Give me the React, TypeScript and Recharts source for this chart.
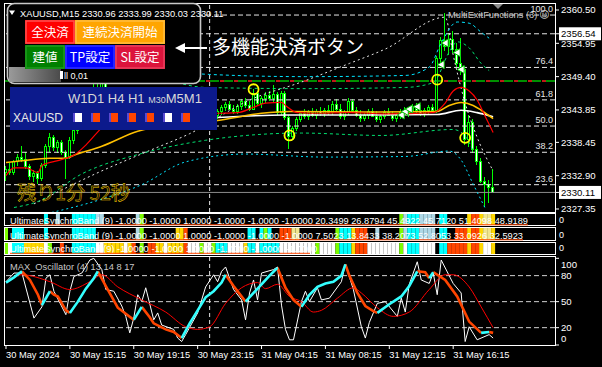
import React from "react";
import {
  ComposedChart,
  BarChart,
  LineChart,
  Bar,
  Line,
  Cell,
  XAxis,
  YAxis,
  ReferenceLine,
} from "recharts";

const FONT = "'Liberation Sans', Arial, sans-serif";
const JP = "'Noto Sans CJK JP', 'Noto Sans CJK SC', sans-serif";

// 123 bars of XAUUSD M15 plus the empty shift area on the right
const SLOTS = 138;

// [open, high, low, close]
const candles: number[][] = [
  [2333.5, 2334.5, 2332.0, 2334.0], [2334.0, 2335.0, 2333.0, 2333.4], [2333.4, 2335.5, 2333.0, 2335.2],
  [2335.2, 2336.5, 2334.5, 2336.0], [2336.0, 2337.8, 2335.2, 2335.6], [2335.6, 2336.8, 2334.0, 2334.4],
  [2334.4, 2334.8, 2332.2, 2332.8], [2332.8, 2333.8, 2331.8, 2333.2], [2333.2, 2333.6, 2331.5, 2332.4],
  [2332.4, 2335.0, 2332.0, 2334.6], [2334.6, 2338.2, 2334.2, 2337.8], [2337.8, 2340.0, 2336.8, 2339.2],
  [2339.2, 2339.6, 2337.0, 2337.6], [2337.6, 2338.8, 2336.6, 2338.4], [2338.4, 2338.9, 2336.4, 2336.8],
  [2336.8, 2337.2, 2332.4, 2336.0], [2336.0, 2339.4, 2335.6, 2338.8], [2338.8, 2341.0, 2338.2, 2340.5],
  [2340.5, 2342.0, 2339.8, 2341.6], [2341.6, 2343.2, 2341.0, 2342.8], [2342.8, 2344.5, 2342.0, 2344.0],
  [2344.0, 2346.0, 2343.4, 2345.5], [2345.5, 2348.2, 2345.0, 2347.6], [2347.6, 2349.2, 2346.5, 2347.0],
  [2347.0, 2348.8, 2346.0, 2348.2], [2348.2, 2349.0, 2346.2, 2346.6], [2346.6, 2347.4, 2345.0, 2345.6],
  [2345.6, 2346.8, 2344.6, 2346.2], [2346.2, 2347.0, 2345.0, 2345.4], [2345.4, 2346.0, 2343.8, 2344.4],
  [2344.4, 2345.0, 2343.2, 2343.8], [2343.8, 2344.6, 2342.6, 2343.0], [2343.0, 2344.4, 2342.6, 2344.0],
  [2344.0, 2345.4, 2343.4, 2345.0], [2345.0, 2345.6, 2343.8, 2344.2], [2344.2, 2345.0, 2343.0, 2343.6],
  [2343.6, 2344.2, 2342.4, 2342.8], [2342.8, 2343.6, 2342.0, 2343.2], [2343.2, 2344.0, 2342.6, 2343.6],
  [2343.6, 2344.6, 2343.0, 2344.2], [2344.2, 2345.2, 2343.6, 2344.8], [2344.8, 2345.4, 2343.8, 2344.0],
  [2344.0, 2344.8, 2343.2, 2343.6], [2343.6, 2344.6, 2343.0, 2344.2], [2344.2, 2345.0, 2343.4, 2343.8],
  [2343.8, 2344.6, 2342.8, 2343.2], [2343.2, 2344.0, 2342.6, 2343.6], [2343.6, 2344.4, 2343.0, 2344.0],
  [2344.0, 2344.8, 2343.2, 2343.4], [2343.4, 2344.2, 2342.8, 2343.8], [2343.8, 2344.6, 2343.2, 2344.2],
  [2344.2, 2345.0, 2343.6, 2344.0], [2344.0, 2344.4, 2342.6, 2343.0], [2343.0, 2344.0, 2342.4, 2343.6],
  [2343.6, 2344.6, 2343.0, 2344.2], [2344.2, 2345.2, 2343.6, 2344.8], [2344.8, 2345.4, 2343.8, 2344.0],
  [2344.0, 2344.6, 2343.2, 2343.6], [2343.6, 2344.8, 2343.2, 2344.4], [2344.4, 2345.6, 2343.8, 2345.2],
  [2345.2, 2345.8, 2344.2, 2344.6], [2344.6, 2345.4, 2343.6, 2344.0], [2344.0, 2347.4, 2343.8, 2346.6],
  [2346.6, 2347.0, 2344.6, 2345.0], [2345.0, 2346.2, 2344.2, 2345.8], [2345.8, 2346.8, 2345.0, 2346.2],
  [2346.2, 2347.0, 2345.4, 2345.8], [2345.8, 2348.0, 2345.2, 2346.4], [2346.4, 2346.8, 2343.0, 2343.4],
  [2343.4, 2347.0, 2343.0, 2346.6], [2346.6, 2347.0, 2342.2, 2342.6], [2342.6, 2343.0, 2337.4, 2339.4],
  [2339.4, 2341.2, 2338.8, 2340.8], [2340.8, 2342.6, 2340.4, 2342.2], [2342.2, 2343.6, 2341.8, 2343.2],
  [2343.2, 2344.0, 2342.4, 2342.8], [2342.8, 2343.8, 2342.2, 2343.4], [2343.4, 2344.2, 2342.6, 2343.0],
  [2343.0, 2344.0, 2342.4, 2343.6], [2343.6, 2344.4, 2342.8, 2343.2], [2343.2, 2344.2, 2342.6, 2343.8],
  [2343.8, 2344.6, 2343.0, 2343.4], [2343.4, 2345.4, 2343.0, 2344.8], [2344.8, 2345.6, 2343.6, 2344.0],
  [2344.0, 2344.8, 2342.4, 2342.8], [2342.8, 2343.8, 2342.2, 2343.4], [2343.4, 2345.8, 2343.0, 2345.2],
  [2345.2, 2345.6, 2343.4, 2343.8], [2343.8, 2344.4, 2342.6, 2343.0], [2343.0, 2343.8, 2341.8, 2342.4],
  [2342.4, 2343.4, 2342.0, 2343.0], [2343.0, 2344.0, 2342.4, 2343.6], [2343.6, 2344.2, 2342.6, 2342.8],
  [2342.8, 2343.6, 2341.8, 2342.2], [2342.2, 2343.2, 2341.6, 2342.8], [2342.8, 2343.8, 2342.4, 2343.4],
  [2343.4, 2344.2, 2342.8, 2343.0], [2343.0, 2343.6, 2342.0, 2342.4], [2342.4, 2343.4, 2341.8, 2343.0],
  [2343.0, 2344.0, 2342.4, 2343.6], [2343.6, 2344.4, 2342.8, 2343.2], [2343.2, 2344.2, 2342.6, 2343.8],
  [2343.8, 2344.8, 2343.2, 2344.4], [2344.4, 2345.0, 2343.4, 2343.8], [2343.8, 2344.6, 2342.8, 2343.2],
  [2343.2, 2344.2, 2342.6, 2343.8], [2343.8, 2344.6, 2343.2, 2344.2], [2344.2, 2344.8, 2343.4, 2343.8],
  [2343.8, 2352.8, 2343.4, 2352.4], [2352.4, 2356.0, 2351.6, 2355.4], [2355.4, 2360.0, 2353.6, 2354.4],
  [2354.4, 2356.6, 2353.0, 2355.6], [2355.6, 2357.0, 2353.4, 2354.0], [2354.0, 2355.0, 2351.0, 2351.6],
  [2351.6, 2355.8, 2349.6, 2350.6], [2350.6, 2351.2, 2338.0, 2339.0], [2339.0, 2343.0, 2337.6, 2341.8],
  [2341.8, 2342.4, 2336.6, 2337.2], [2337.2, 2337.8, 2334.6, 2335.2], [2335.2, 2335.8, 2331.6, 2332.0],
  [2332.0, 2332.6, 2327.6, 2331.4], [2331.4, 2332.2, 2328.4, 2330.96], [2330.96, 2333.99, 2330.03, 2330.11],
];

// moving averages, [bar, price]
const maRed = [[0, 2332.9], [2, 2334.2], [5, 2334.2], [8, 2333.4], [9, 2334.6], [13, 2335.4], [15, 2335.8], [17, 2336.3], [20, 2338.0], [23, 2340.2], [28, 2343.5], [34, 2344.8], [42, 2344.2], [53, 2343.3], [58, 2343.4], [62, 2344.3], [65, 2345.0], [69, 2345.1], [70, 2344.6], [73, 2343.4], [78, 2343.3], [86, 2343.4], [95, 2343.2], [107, 2343.4], [110, 2345.0], [112, 2347.0], [114, 2347.6], [116, 2347.0], [118, 2345.5], [120, 2342.8], [122, 2340.1]];
const maGold = [[0, 2335.1], [4, 2335.4], [11, 2335.8], [15, 2335.8], [17, 2336.3], [24, 2337.8], [33, 2340.3], [45, 2341.5], [53, 2342.1], [64, 2343.3], [71, 2343.6], [90, 2343.5], [108, 2343.6], [111, 2344.6], [114, 2345.1], [117, 2344.6], [119, 2343.8], [122, 2342.4]];
const maWhite = [[53, 2342.6], [70, 2343.0], [85, 2343.0], [108, 2343.1], [114, 2343.8], [118, 2343.4], [122, 2342.7]];

// dotted envelope lines
const bandWhite = [[7, 2328.2], [24, 2333.7], [36, 2337.1], [46, 2339.9], [61, 2345.5], [74, 2348.5], [86, 2351.6], [95, 2354.0], [110, 2359.3], [112, 2353.0], [115, 2345.0], [118, 2339.3], [122, 2333.7]];
const bandCyanUp = [[30, 2352.6], [40, 2350.8], [50, 2349.8], [75, 2349.4], [100, 2349.6], [106, 2351.0], [109, 2355.0], [113, 2358.5], [116, 2358.3], [119, 2356.8], [121, 2355.8]];
const bandGreenUp = [[40, 2349.0], [50, 2347.6], [75, 2347.4], [100, 2347.6], [107, 2348.4], [111, 2353.5], [113, 2355.2], [116, 2354.2], [119, 2351.6], [121, 2350.4]];
const bandGreenLo = [[2, 2327.6], [8, 2328.6], [19, 2333.2], [34, 2336.6], [50, 2338.8], [74, 2340.0], [94, 2339.6], [112, 2340.6], [115, 2339.5], [117, 2337.0]];
const bandCyanLo = [[9, 2326.4], [25, 2329.2], [34, 2331.4], [45, 2335.2], [60, 2336.5], [80, 2336.0], [100, 2336.1], [111, 2337.0], [114, 2335.5], [117, 2331.5], [120, 2327.5]];

const rings = [[62, 2347.3], [71, 2339.6], [108, 2348.9], [115, 2339.2]];
const exitArrows = [[99, 2343.0], [100, 2343.6], [101, 2344.0], [103, 2344.4], [109, 2351.4], [110, 2355.0], [113, 2353.4], [114, 2350.6]];

const FIB_LABELS = ["100.0", "76.4", "61.8", "50.0", "38.2", "23.6"];
const FIB_PRICES = [2359.66, 2350.93, 2345.53, 2341.17, 2336.8, 2331.4];
const ASK_LINE = 2356.54;
const BID_LINE = 2330.11;
const SIGNAL_LINE = 2348.68;
const DAY_BREAK = 51;

const PRICE_TICKS = [2360.5, 2354.95, 2349.4, 2343.85, 2338.45, 2332.9, 2327.35];
const BOXED = [ASK_LINE, BID_LINE];

const TIME_TICKS = [0, 16, 32, 48, 64, 80, 96, 112];
const TIME_LABELS = ["30 May 2024", "30 May 15:15", "30 May 19:15", "30 May 23:15", "31 May 04:15", "31 May 08:15", "31 May 12:15", "31 May 16:15"];

// MAX_Oscillator
const oscWhite = [[0, 73], [2, 83], [4, 83], [7, 31], [9, 44], [10, 77], [11, 81], [12, 62], [15, 35], [16, 62], [17, 79], [19, 83], [21, 98], [22, 100], [24, 87], [25, 64], [27, 62], [29, 45], [30, 33], [31, 14], [32, 31], [33, 58], [34, 50], [35, 66], [37, 29], [38, 37], [39, 23], [42, 18], [43, 8], [44, 4], [45, 12], [48, 37], [49, 52], [50, 67], [52, 81], [53, 73], [54, 85], [55, 90], [57, 64], [59, 52], [60, 29], [61, 60], [62, 75], [63, 52], [64, 83], [67, 87], [68, 90], [69, 46], [70, 18], [71, 6], [72, 6], [74, 50], [75, 62], [76, 50], [78, 66], [79, 52], [81, 54], [84, 73], [85, 93], [87, 64], [89, 21], [90, 8], [91, 26], [93, 48], [95, 50], [98, 33], [99, 54], [100, 38], [101, 70], [103, 96], [104, 75], [106, 71], [107, 83], [108, 58], [109, 98], [112, 71], [114, 60], [115, 4], [116, 21], [118, 6], [121, 12], [122, 8]];
const oscRed = [[0, 73], [4, 81], [11, 73], [16, 64], [21, 73], [24, 81], [28, 67], [34, 52], [40, 38], [45, 21], [48, 18], [51, 21], [55, 48], [59, 66], [63, 72], [65, 65], [68, 70], [71, 56], [74, 50], [77, 38], [79, 40], [83, 54], [87, 66], [89, 60], [93, 43], [97, 33], [101, 38], [106, 64], [110, 81], [112, 81], [116, 67], [119, 44], [122, 20]];
const oscRising = [
  [[0, 72], [2, 78], [4, 85]],
  [[9, 46], [11, 62]],
  [[16, 37], [18, 50], [20, 65], [22, 77], [23, 85]],
  [[32, 29], [34, 44]],
  [[44, 8], [46, 25], [48, 40], [50, 55], [52, 62], [54, 72], [55, 81]],
  [[60, 50], [62, 60], [64, 70], [66, 80], [68, 89]],
  [[74, 44], [76, 58], [78, 67], [80, 71], [82, 73], [84, 80], [85, 93]],
  [[93, 37], [96, 47], [99, 56], [101, 68], [103, 85]],
  [[106, 77], [107, 84]],
  [[119, 14], [121, 15]],
];
const oscFalling = [
  [[4, 85], [6, 75], [8, 58], [9, 46]],
  [[11, 62], [12, 58], [13, 56], [15, 40], [16, 37]],
  [[23, 85], [25, 68], [28, 43], [30, 36], [32, 29]],
  [[34, 44], [36, 32], [37, 25], [40, 18], [42, 15], [44, 8]],
  [[55, 81], [57, 68], [60, 50]],
  [[68, 89], [70, 66], [72, 52], [74, 44]],
  [[85, 93], [86, 80], [88, 60], [90, 45], [92, 39], [93, 37]],
  [[103, 85], [105, 84], [106, 77]],
  [[107, 84], [110, 75], [113, 56], [116, 27], [119, 14]],
  [[121, 15], [122, 14]],
];
const OSC_TICKS = [0, 20, 50, 80, 100];

// UltimateSynchroBand state per bar: [from, to, state]
const band1: [number, number, string][] = [[10, 10, "c"], [13, 13, "b"], [17, 22, "c"], [23, 24, "b"], [33, 33, "b"], [34, 34, "g"], [99, 99, "g"], [100, 100, "b"], [101, 103, "c"], [104, 107, "b"], [109, 110, "c"], [116, 116, "y"], [117, 118, "o"], [119, 119, "y"], [120, 121, "k"], [122, 122, "y"]];
const band2: [number, number, string][] = [[0, 0, "g"], [2, 4, "c"], [10, 10, "c"], [17, 22, "c"], [33, 33, "b"], [34, 34, "g"], [43, 44, "y"], [45, 45, "o"], [61, 62, "c"], [64, 64, "c"], [65, 65, "g"], [66, 66, "c"], [69, 71, "o"], [72, 73, "k"], [83, 83, "g"], [84, 86, "c"], [87, 87, "y"], [88, 90, "o"], [93, 93, "b"], [99, 99, "g"], [100, 100, "b"], [101, 103, "c"], [104, 107, "b"], [109, 110, "c"], [113, 115, "o"], [116, 116, "y"], [117, 118, "o"], [119, 119, "y"], [120, 121, "k"], [122, 122, "y"]];
const band3: [number, number, string][] = [[0, 0, "g"], [1, 1, "w"], [2, 4, "c"], [5, 9, "y"], [10, 10, "w"], [11, 11, "g"], [14, 14, "o"], [17, 22, "c"], [23, 24, "w"], [25, 29, "y"], [30, 30, "w"], [31, 31, "y"], [32, 32, "o"], [34, 34, "g"], [36, 37, "o"], [38, 39, "y"], [40, 40, "w"], [41, 44, "y"], [45, 45, "o"], [46, 48, "w"], [49, 49, "g"], [50, 51, "w"], [52, 52, "g"], [53, 55, "c"], [56, 59, "w"], [60, 60, "y"], [61, 62, "c"], [63, 63, "w"], [64, 68, "c"], [69, 77, "w"], [78, 78, "g"], [79, 82, "w"], [83, 83, "g"], [84, 86, "c"], [87, 87, "y"], [88, 90, "o"], [91, 98, "w"], [99, 99, "g"], [100, 100, "w"], [101, 103, "c"], [104, 107, "w"], [109, 110, "c"], [111, 115, "o"], [116, 116, "y"], [117, 118, "o"], [119, 119, "y"], [120, 121, "w"], [122, 122, "y"]];
const STATE_COLORS: Record<string, string> = { c: "#00ffff", b: "#add8e6", g: "#7cfc00", y: "#ffd700", o: "#ff4500", k: "#f0e68c", w: "#ffffff" };

const USB_TEXT_1 = "UltimateSynchroBand (9) -1.0000 -1.0000 1.0000 -1.0000 -1.0000 -1.0000 20.3499 26.8794 45.4922 45.7120 51.4098 48.9189";
const USB_TEXT_2 = "UltimateSynchroBand (9) -1.0000 -1.0000 1.0000 -1.0000 -1.0000 -1.0000 7.5023 13.8433 38.2073 52.8053 33.0926 32.5923";
const USB_TEXT_3 = "UltimateSynchroBand (9) -1.0000 -1.0000 1.0000 -1.0000 -1.0000 -1.0000";

const TF_LABELS = ["W1", "D1", " H4", " H1", " ", "M30", "M5", "M1"];
const TF_STATE = ["w", "o", "o", "o", "o", "w", "o"];

// ---- build tables ----
const rows: any[] = Array.from({ length: SLOTS }, (_, i) => {
  const c = candles[i];
  return c ? { i, o: c[0], h: c[1], l: c[2], c: c[3] } : { i };
});
const put = (key: string, pts: number[][]) => pts.forEach(([i, v]) => (rows[i][key] = v));
put("maR", maRed);
put("maG", maGold);
put("maW", maWhite);
put("bW", bandWhite);
put("bCu", bandCyanUp);
put("bGu", bandGreenUp);
put("bGl", bandGreenLo);
put("bCl", bandCyanLo);
put("ring", rings);
put("arrow", exitArrows);

const paint = (segs: [number, number, string][]) => {
  const out = Array.from({ length: SLOTS }, (_, i) => ({ i, s: ".", v: null as number | null }));
  segs.forEach(([a, b, s]) => {
    for (let k = a; k <= b; k++) {
      out[k].s = s;
      out[k].v = 1;
    }
  });
  return out;
};

const toPts = (pts: number[][]) => pts.map(([i, v]) => ({ i, v }));

// ---- renderers ----
const Candle = (props: any) => {
  const { x, y, width, height, payload } = props;
  if (payload == null || payload.h == null) return <g />;
  const top = Math.min(y, y + height);
  const h = Math.abs(height);
  const k = h / (payload.h - payload.l || 1);
  const cx = Math.round(x + width / 2) - 0.5;
  const yo = top + (payload.h - payload.o) * k;
  const yc = top + (payload.h - payload.c) * k;
  const bull = payload.c >= payload.o;
  return (
    <g shapeRendering="crispEdges">
      <line x1={cx} x2={cx} y1={top} y2={top + h} stroke="#00ff00" />
      <rect x={cx - 1} y={Math.min(yo, yc)} width={2} height={Math.max(Math.abs(yc - yo), 1)} fill={bull ? "#000" : "#fff"} stroke="#00ff00" />
    </g>
  );
};

const RingDot = (p: any) =>
  p.value == null || p.cy == null ? <g key={p.index} /> : (
    <circle key={p.index} cx={p.cx} cy={p.cy} r={5} fill="none" stroke="#ffff00" strokeWidth={1.8} />
  );

const ArrowDot = (p: any) =>
  p.value == null || p.cy == null ? <g key={p.index} /> : (
    <polygon key={p.index} points={`${p.cx - 4},${p.cy} ${p.cx + 3},${p.cy - 4} ${p.cx + 3},${p.cy + 4}`} fill="#fff" stroke="#00c000" strokeWidth={1} />
  );

const PriceTick = (p: any) => {
  const { x, y, payload } = p;
  const v = payload.value;
  const boxed = BOXED.includes(v);
  return (
    <g>
      <line x1={x} x2={x + 4} y1={y} y2={y} stroke="#fff" />
      {boxed && <rect x={x + 4} y={y - 6.5} width={42} height={13} fill="#fff" />}
      <text x={x + 6} y={y + 3.4} fontSize={9.6} fontFamily={FONT} fill={boxed ? "#000" : "#fff"}>
        {v.toFixed(2)}
      </text>
    </g>
  );
};

const OscTick = (p: any) => {
  const { x, y, payload } = p;
  const v = payload.value;
  const ty = v === 100 ? y + 6 : v === 0 ? y - 6 : y;
  return (
    <g>
      <line x1={x} x2={x + 4} y1={y} y2={y} stroke="#fff" />
      <text x={x + 6} y={ty + 3.4} fontSize={9.6} fontFamily={FONT} fill="#fff">
        {v}
      </text>
    </g>
  );
};

const TimeTick = (p: any) => {
  const { x, y, payload } = p;
  return (
    <g>
      <line x1={x} x2={x} y1={y} y2={y + 4} stroke="#fff" />
      <text x={x} y={y + 13} fontSize={9.3} fontFamily={FONT} fill="#fff">
        {TIME_LABELS[TIME_TICKS.indexOf(payload.value)]}
      </text>
    </g>
  );
};

const fibLabel = (text: string) => (p: any) => {
  const vb = p.viewBox || {};
  return (
    <text x={vb.x + vb.width - 2} y={vb.y - 3} textAnchor="end" fontSize={9} fontFamily={FONT} fill="#e6e6e6">
      {text}
    </text>
  );
};

const BandPanel = ({ segs, top, height }: any) => {
  const data = paint(segs);
  return (
    <div style={{ position: "absolute", left: 0, top }}>
      <BarChart width={602} height={height} data={data} margin={{ top: 0, right: 47, bottom: 0, left: 4 }} barCategoryGap={0} barGap={0}>
        <XAxis dataKey="i" hide />
        <YAxis hide domain={[0, 1]} />
        <Bar dataKey="v" isAnimationActive={false}>
          {data.map((d, k) => (
            <Cell key={k} fill={STATE_COLORS[d.s] || "none"} />
          ))}
        </Bar>
        <ReferenceLine x={DAY_BREAK} stroke="#e6e6e6" strokeDasharray="3 3" />
      </BarChart>
    </div>
  );
};

const pitch = 518 / USB_TEXT_1.length;

const Button = ({ x, y, w, h, fill, edge, label, size = 12.5 }: any) => (
  <g>
    <rect x={x} y={y} width={w} height={h} fill={fill} />
    <rect x={x + 1} y={y + 1} width={w - 2} height={h - 2} fill="none" stroke={edge} strokeWidth={1.5} />
    <text x={x + w / 2} y={y + h / 2 + 4.5} textAnchor="middle" fontSize={size} fontFamily={JP} fill="#fff">
      {label}
    </text>
  </g>
);

export default function App() {
  return (
    <div style={{ position: "fixed", left: 0, top: 0, width: 602, height: 367, background: "#000", overflow: "hidden" }}>
      {/* main price window */}
      <div style={{ position: "absolute", left: 0, top: 0 }}>
        <ComposedChart width={602} height={213} data={rows} margin={{ top: 4, right: 4, bottom: 1, left: 4 }} barCategoryGap={0} barGap={0}>
          <XAxis dataKey="i" hide />
          <YAxis
            orientation="right"
            width={43}
            domain={[2326.85, 2361.5]}
            allowDataOverflow
            ticks={[...PRICE_TICKS, ...BOXED]}
            interval={0}
            tick={<PriceTick />}
            tickSize={0}
            tickMargin={0}
            axisLine={false}
            tickLine={false}
          />
          {FIB_PRICES.map((p, k) => (
            <ReferenceLine key={`fib${k}`} y={p} stroke="#e6e6e6" strokeDasharray="5 3" label={fibLabel(FIB_LABELS[k])} />
          ))}
          <ReferenceLine y={ASK_LINE} stroke="#e6e6e6" strokeDasharray="5 3" />
          <ReferenceLine y={SIGNAL_LINE} stroke="#00c000" strokeWidth={1.5} strokeDasharray="9 5" />
          <ReferenceLine y={SIGNAL_LINE} stroke="#ff2020" strokeWidth={1.5} strokeDasharray="4 10" strokeDashoffset={-9} />
          <ReferenceLine y={BID_LINE} stroke="#8c8c8c" />
          <ReferenceLine x={DAY_BREAK} stroke="#e6e6e6" strokeDasharray="4 3" />

          <Line dataKey="bW" connectNulls type="monotone" stroke="#e6e6e6" strokeDasharray="2 3" dot={false} isAnimationActive={false} />
          <Line dataKey="bCu" connectNulls type="monotone" stroke="#00e5ff" strokeDasharray="3 3" dot={false} isAnimationActive={false} />
          <Line dataKey="bGu" connectNulls type="monotone" stroke="#00e070" strokeDasharray="3 3" dot={false} isAnimationActive={false} />
          <Line dataKey="bGl" connectNulls type="monotone" stroke="#00e070" strokeDasharray="3 3" dot={false} isAnimationActive={false} />
          <Line dataKey="bCl" connectNulls type="monotone" stroke="#00e5ff" strokeDasharray="2 3" dot={false} isAnimationActive={false} />

          <Bar dataKey={(d: any) => (d.h == null ? null : [d.l, d.h])} shape={<Candle />} isAnimationActive={false} />

          <Line dataKey="maW" connectNulls type="monotone" stroke="#ffffff" strokeWidth={1.6} dot={false} isAnimationActive={false} />
          <Line dataKey="maG" connectNulls type="monotone" stroke="#ffc000" strokeWidth={1.5} dot={false} isAnimationActive={false} />
          <Line dataKey="maR" connectNulls type="monotone" stroke="#ff0000" strokeWidth={1.2} dot={false} isAnimationActive={false} />

          <Line dataKey="arrow" stroke="none" dot={ArrowDot} isAnimationActive={false} />
          <Line dataKey="ring" stroke="none" dot={RingDot} isAnimationActive={false} />
        </ComposedChart>
      </div>

      <BandPanel segs={band1} top={214} height={11} />
      <BandPanel segs={band2} top={228} height={12} />
      <BandPanel segs={band3} top={243} height={11} />

      {/* oscillator window */}
      <div style={{ position: "absolute", left: 0, top: 257 }}>
        <LineChart width={602} height={110} margin={{ top: 0, right: 4, bottom: 0, left: 4 }}>
          <XAxis
            type="number"
            dataKey="i"
            domain={[-0.5, SLOTS - 0.5]}
            allowDataOverflow
            ticks={TIME_TICKS}
            interval={0}
            height={22}
            tick={<TimeTick />}
            tickSize={0}
            tickMargin={0}
            axisLine={false}
            tickLine={false}
          />
          <YAxis
            orientation="right"
            width={43}
            domain={[0, 101.5]}
            allowDataOverflow
            ticks={OSC_TICKS}
            interval={0}
            tick={<OscTick />}
            tickSize={0}
            tickMargin={0}
            axisLine={false}
            tickLine={false}
          />
          {[80, 50, 20].map((v) => (
            <ReferenceLine key={`l${v}`} y={v} stroke="#d0d0d0" strokeDasharray="5 3" />
          ))}
          <ReferenceLine x={DAY_BREAK} stroke="#e6e6e6" strokeDasharray="4 3" />
          <Line data={toPts(oscWhite)} dataKey="v" type="linear" stroke="#ffffff" strokeWidth={1} dot={false} isAnimationActive={false} />
          <Line data={toPts(oscRed)} dataKey="v" type="monotone" stroke="#ff0000" strokeWidth={1} dot={false} isAnimationActive={false} />
          {oscFalling.map((seg, k) => (
            <Line key={`f${k}`} data={toPts(seg)} dataKey="v" type="linear" stroke="#ff4500" strokeWidth={2.6} dot={false} isAnimationActive={false} />
          ))}
          {oscRising.map((seg, k) => (
            <Line key={`r${k}`} data={toPts(seg)} dataKey="v" type="linear" stroke="#33ffff" strokeWidth={2.6} dot={false} isAnimationActive={false} />
          ))}
        </LineChart>
      </div>

      {/* window frames, labels and on-chart panels */}
      <svg width={602} height={367} style={{ position: "absolute", left: 0, top: 0, pointerEvents: "none" }}>
        <defs>
          <linearGradient id="lotgrad" x1="0" x2="1" y1="0" y2="0">
            <stop offset="0" stopColor="#9a9a9a" />
            <stop offset="1" stopColor="#4a4a4a" />
          </linearGradient>
        </defs>
        <g fill="none" stroke="#fff" strokeWidth={1} shapeRendering="crispEdges">
          <rect x={4.5} y={3.5} width={551} height={208.5} />
          <rect x={4.5} y={213.5} width={551} height={12} />
          <rect x={4.5} y={227.5} width={551} height={13} />
          <rect x={4.5} y={242.5} width={551} height={12} />
          <rect x={4.5} y={256.5} width={551} height={89} />
        </g>

        {/* trade panel */}
        <rect x={7.5} y={3.5} width={193} height={80} rx={7} fill="#000" stroke="#c8c8c8" strokeWidth={1.6} />
        <rect x={9} y={67} width={52} height={15} fill="url(#lotgrad)" />
        <rect x={60} y={71} width={3} height={8} fill="#fff" />
        <text x={64} y={78.5} fontSize={9} fontFamily={FONT} fill="#fff">ll 0,01</text>
        <polygon points="9,10.5 15,10.5 12,15" fill="#fff" />
        <text x={20} y={16.5} fontSize={9.3} fontFamily={FONT} fill="#fff">
          XAUUSD,M15  2330.96 2333.99 2330.03 2330.11
        </text>
        <Button x={25} y={20} w={50} h={24} fill="#ff0000" edge="#ff5050" label="全決済" />
        <Button x={75} y={20} w={90} h={24} fill="#ffa500" edge="#ffbd40" label="連続決済開始" />
        <Button x={25} y={45} w={40} h={24} fill="#008000" edge="#1f9a1f" label="建値" />
        <Button x={65} y={45} w={50} h={24} fill="#0000ff" edge="#3030ff" label="TP設定" />
        <Button x={115} y={45} w={50} h={24} fill="#dc143c" edge="#e8405e" label="SL設定" />

        {/* callout */}
        <line x1={180} x2={207} y1={48} y2={48} stroke="#fff" strokeWidth={2} />
        <polygon points="175,48 185,43 185,53" fill="#fff" />
        <text x={212} y={54} fontSize={19} fontFamily={JP} fill="#fff">多機能決済ボタン</text>

        {/* multi timeframe panel */}
        <rect x={10} y={87} width={207} height={43} fill="#0c1a8c" />
        <text x={68} y={103} fontSize={13} fontFamily={FONT} fill="#d8d8d8">
          {TF_LABELS.map((t, k) => (
            <tspan key={k} fontSize={t === "M30" ? 9 : 13}>{t}</tspan>
          ))}
        </text>
        <text x={13} y={122} fontSize={12} fontFamily={FONT} fill="#e8e8e8">XAUUSD</text>
        {TF_STATE.map((s, k) => (
          <g key={k}>
            <rect x={73 + k * 18} y={113} width={9} height={9} fill={s === "w" ? "#fff" : "#ff4500"} />
            <rect x={73 + k * 18} y={113} width={2} height={9} fill="#5a4ad0" />
          </g>
        ))}

        {/* countdown */}
        <text x={17} y={200} fontSize={19} fontFamily={JP} fill="none" stroke="#f0c800" strokeWidth={0.5} textLength={113} lengthAdjust="spacingAndGlyphs">
          残り1分 52秒
        </text>

        {/* EA name and shift marker */}
        <polygon points="493,4 503,4 498,9" fill="#8a8a8a" />
        <text x={448} y={17.5} fontSize={9.3} fontFamily={FONT} fill="#c8c8c8">MultiExitFunctions (3)</text>
        <text x={539} y={18} fontSize={10} fontFamily="'DejaVu Sans', sans-serif" fill="#c8c8c8">☺</text>

        {/* indicator window labels */}
        <text x={10} y={223.5} fontSize={9.3} fontFamily={FONT} fill="#fff" textLength={518} lengthAdjust="spacingAndGlyphs">{USB_TEXT_1}</text>
        <line x1={10} x2={528} y1={224.8} y2={224.8} stroke="#ff4500" />
        <text x={10} y={238.5} fontSize={9.3} fontFamily={FONT} fill="#fff" textLength={513} lengthAdjust="spacingAndGlyphs">{USB_TEXT_2}</text>
        <line x1={10} x2={523} y1={239.8} y2={239.8} stroke="#ff4500" />
        <text x={10} y={252} fontSize={9.3} fontFamily={FONT} fill="#fff" textLength={USB_TEXT_3.length * pitch} lengthAdjust="spacingAndGlyphs">{USB_TEXT_3}</text>
        <line x1={10} x2={310} y1={253.3} y2={253.3} stroke="#ff4500" />
        {[223, 237.5, 251].map((y, k) => (
          <text key={k} x={559} y={y} fontSize={9} fontFamily={FONT} fill="#fff">0</text>
        ))}
        <text x={10} y={270} fontSize={9.3} fontFamily={FONT} fill="#c8c8c8">MAX_Oscillator (4) 13 14 8 17</text>
      </svg>
    </div>
  );
}
